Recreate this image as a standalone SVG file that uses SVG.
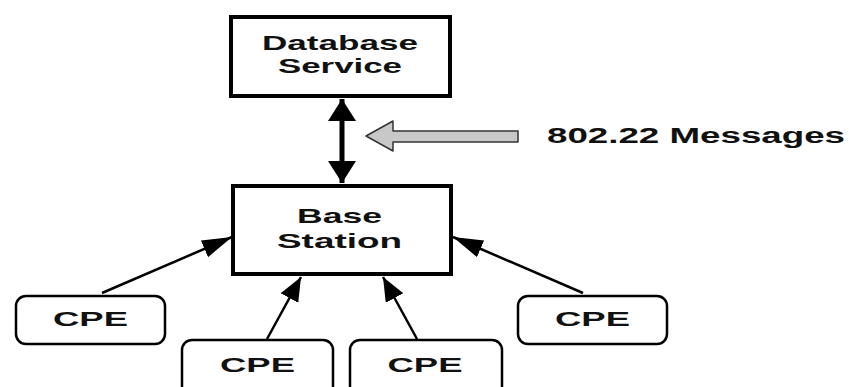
<svg xmlns="http://www.w3.org/2000/svg" width="849" height="387" viewBox="0 0 849 387">
<defs>
<style>
.box{fill:#fff;stroke:#000;stroke-width:4}
.cpe{fill:#fff;stroke:#000;stroke-width:2.5}
.t{font-family:"Liberation Sans",Arial,sans-serif;font-weight:bold;font-size:21px;fill:#111}
.c{stroke:#000;stroke-width:2.5;fill:none}
</style>
<marker id="ah" markerUnits="userSpaceOnUse" markerWidth="26" markerHeight="22" refX="24" refY="10" orient="auto">
<path d="M0,0 L24,10 L0,20 z" fill="#000"/>
</marker>
<marker id="ahl" markerUnits="userSpaceOnUse" markerWidth="32" markerHeight="20" refX="30" refY="9" orient="auto">
<path d="M0,0 L30,9 L0,18 z" fill="#000"/>
</marker>
<marker id="big" markerUnits="userSpaceOnUse" markerWidth="24" markerHeight="30" refX="22" refY="14" orient="auto-start-reverse">
<path d="M0,0 L22,14 L0,28 z" fill="#000"/>
</marker>
</defs>
<g id="connectors">
<line class="c" x1="342" y1="99" x2="342" y2="183" style="stroke-width:5" marker-start="url(#big)" marker-end="url(#big)"/>
<line class="c" x1="102" y1="293" x2="232" y2="237" marker-end="url(#ahl)"/>
<line class="c" x1="267" y1="339" x2="301" y2="277" marker-end="url(#ah)"/>
<line class="c" x1="417" y1="339" x2="383" y2="277" marker-end="url(#ah)"/>
<line class="c" x1="583" y1="293" x2="453" y2="237" marker-end="url(#ahl)"/>
<path id="msg-arrow" d="M366,136 L393,121 L393,131 L518,131 L518,142 L393,142 L393,151 z" fill="#c8c8c8" stroke="#333" stroke-width="1.5" stroke-linejoin="round"/>
</g>
<g id="database">
<rect class="box" x="231" y="17" width="219" height="79"/>
<text class="t" x="340" y="50" text-anchor="middle" textLength="156" lengthAdjust="spacingAndGlyphs">Database</text>
<text class="t" x="340" y="73" text-anchor="middle" textLength="124" lengthAdjust="spacingAndGlyphs">Service</text>
</g>
<g id="base-station">
<rect class="box" x="233" y="186" width="218" height="88"/>
<text class="t" x="339.5" y="223" text-anchor="middle" textLength="85" lengthAdjust="spacingAndGlyphs">Base</text>
<text class="t" x="339.5" y="248" text-anchor="middle" textLength="125" lengthAdjust="spacingAndGlyphs">Station</text>
</g>
<g id="label">
<text class="t" x="547" y="143" style="font-size:22px" textLength="298" lengthAdjust="spacingAndGlyphs">802.22 Messages</text>
</g>
<g id="cpe1">
<rect class="cpe" x="16" y="296" width="149" height="48" rx="10"/>
<text class="t" x="90.5" y="326" text-anchor="middle" textLength="75" lengthAdjust="spacingAndGlyphs">CPE</text>
</g>
<g id="cpe2">
<rect class="cpe" x="182" y="340" width="151" height="60" rx="10"/>
<text class="t" x="257.5" y="372" text-anchor="middle" textLength="75" lengthAdjust="spacingAndGlyphs">CPE</text>
</g>
<g id="cpe3">
<rect class="cpe" x="350" y="340" width="152" height="60" rx="10"/>
<text class="t" x="425" y="372" text-anchor="middle" textLength="75" lengthAdjust="spacingAndGlyphs">CPE</text>
</g>
<g id="cpe4">
<rect class="cpe" x="518" y="296" width="149" height="48" rx="10"/>
<text class="t" x="592.5" y="326" text-anchor="middle" textLength="75" lengthAdjust="spacingAndGlyphs">CPE</text>
</g>
</svg>
